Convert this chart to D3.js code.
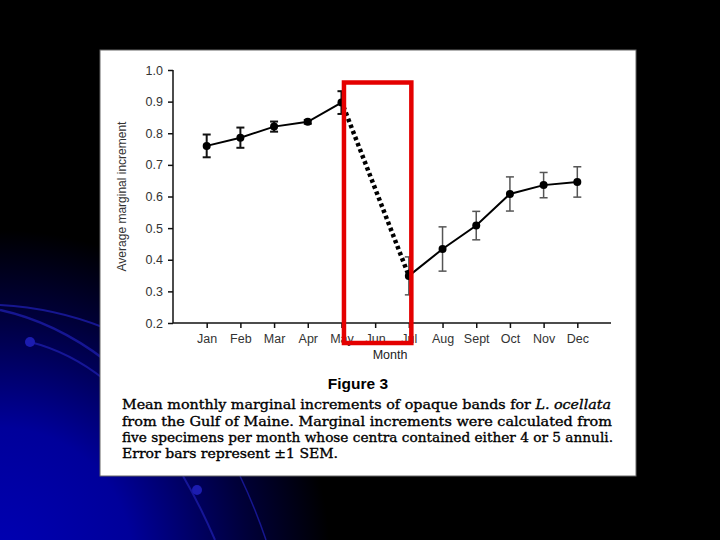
<!DOCTYPE html>
<html>
<head>
<meta charset="utf-8">
<script src="https://cdn.jsdelivr.net/npm/d3@7"></script>
<style>
  html, body { margin: 0; padding: 0; background: #000; }
  svg { display: block; }
</style>
</head>
<body>
<div id="chart"></div>
<script>
// =======================
// Data
// =======================
const months = ["Jan", "Feb", "Mar", "Apr", "May", "Jun", "Jul", "Aug", "Sept", "Oct", "Nov", "Dec"];
const means  = [0.760, 0.786, 0.821, 0.836, 0.897, null, 0.349, 0.434, 0.508, 0.608, 0.636, 0.646];
const sems   = [0.036, 0.032, 0.016, 0.006, 0.036, null, 0.060, 0.070, 0.045, 0.054, 0.040, 0.048];
const yTicks = [0.2, 0.3, 0.4, 0.5, 0.6, 0.7, 0.8, 0.9, 1.0];
const captionLines = [
    "from the Gulf of Maine. Marginal increments were calculated from",
    "five specimens per month whose centra contained either 4 or 5 annuli.",
    "Error bars represent \u00b11 SEM."
];

const width = 720, height = 540;

const svg = d3.select("#chart")
    .append("svg")
    .attr("width", width)
    .attr("height", height);

// =======================
// Slide background
// =======================
const defs = svg.append("defs");
const glow = defs.append("radialGradient")
    .attr("id", "glow")
    .attr("gradientUnits", "userSpaceOnUse")
    .attr("cx", 0).attr("cy", 560).attr("r", 330);
glow.append("stop").attr("offset", 0).attr("stop-color", "#0000b4");
glow.append("stop").attr("offset", 0.4).attr("stop-color", "#00009a");
glow.append("stop").attr("offset", 0.75).attr("stop-color", "#00003a");
glow.append("stop").attr("offset", 1).attr("stop-color", "#000000");

svg.append("rect").attr("width", width).attr("height", height).attr("fill", "#000");
svg.append("rect").attr("width", width).attr("height", height).attr("fill", "url(#glow)");

// swooshes
const swoosh = svg.append("g").attr("fill", "none").attr("stroke", "#1c1ca8").attr("stroke-opacity", 0.8);
swoosh.append("path").attr("d", "M0,305 Q55,308 105,328").attr("stroke-width", 2);
swoosh.append("path").attr("d", "M0,310 Q55,322 105,360").attr("stroke-width", 2.5);
swoosh.append("path").attr("d", "M30,342 Q70,352 105,380").attr("stroke-width", 2);
swoosh.append("path").attr("d", "M183,476 Q200,505 215,540").attr("stroke-width", 2);
swoosh.append("path").attr("d", "M240,476 Q254,505 266,540").attr("stroke-width", 1.5);
svg.append("circle").attr("cx", 30).attr("cy", 342).attr("r", 5).attr("fill", "#1c1cb0");
svg.append("circle").attr("cx", 197).attr("cy", 490).attr("r", 5).attr("fill", "#1c1cb0");

// =======================
// White figure panel
// =======================
svg.append("rect")
    .attr("x", 100).attr("y", 50)
    .attr("width", 536).attr("height", 426)
    .attr("fill", "#fff")
    .attr("stroke", "#666")
    .attr("stroke-width", 1);

// =======================
// Scales & axes
// =======================
const x = d3.scaleLinear().domain([0, 13]).range([173, 611]);
const y = d3.scaleLinear().domain([0.2, 1.0]).range([323, 70]);

const plot = svg.append("g");

const yAxis = plot.append("g")
    .attr("transform", `translate(${x(0)},0)`)
    .call(d3.axisLeft(y).tickValues(yTicks).tickFormat(d3.format(".1f")).tickSize(5).tickPadding(5));

const xAxis = plot.append("g")
    .attr("transform", `translate(0,${y(0.2)})`)
    .call(d3.axisBottom(x).tickValues(d3.range(1, 13)).tickFormat(i => months[i - 1]).tickSize(5).tickPadding(6));

[yAxis, xAxis].forEach(a => {
    a.select(".domain").attr("stroke", "#111").attr("stroke-width", 1.5);
    a.selectAll(".tick line").attr("stroke", "#111").attr("stroke-width", 1.5);
    a.selectAll("text")
        .attr("fill", "#333")
        .style("font-family", "Liberation Sans, Arial, sans-serif")
        .style("font-size", "12.5px");
});
// keep domain lines without end caps
yAxis.select(".domain").attr("d", `M0,${y(1.0)}V${y(0.2)}`);
xAxis.select(".domain").attr("d", `M${x(0)},0H${x(13)}`);

plot.append("text")
    .attr("transform", `translate(126,${(y(0.2) + y(1.0)) / 2}) rotate(-90)`)
    .attr("text-anchor", "middle")
    .attr("fill", "#333")
    .style("font-family", "Liberation Sans, Arial, sans-serif")
    .style("font-size", "12px")
    .text("Average marginal increment");

plot.append("text")
    .attr("x", 390).attr("y", 359)
    .attr("text-anchor", "middle")
    .attr("fill", "#222")
    .style("font-family", "Liberation Sans, Arial, sans-serif")
    .style("font-size", "12.5px")
    .text("Month");

// =======================
// Series
// =======================
const data = months.map((m, i) => ({ i: i + 1, month: m, mean: means[i], sem: sems[i] }));
const valid = data.filter(d => d.mean != null);

// error bars
const eb = plot.append("g").selectAll("g")
    .data(valid)
    .enter()
    .append("g")
    .attr("stroke", d => d.i <= 5 ? "#111" : "#555")
    .attr("stroke-width", d => d.i <= 5 ? 2 : 1.5);

eb.append("line")
    .attr("x1", d => x(d.i)).attr("x2", d => x(d.i))
    .attr("y1", d => y(d.mean + d.sem)).attr("y2", d => y(d.mean - d.sem));
eb.append("line")
    .attr("x1", d => x(d.i) - 4).attr("x2", d => x(d.i) + 4)
    .attr("y1", d => y(d.mean + d.sem)).attr("y2", d => y(d.mean + d.sem));
eb.append("line")
    .attr("x1", d => x(d.i) - 4).attr("x2", d => x(d.i) + 4)
    .attr("y1", d => y(d.mean - d.sem)).attr("y2", d => y(d.mean - d.sem));

// solid line (gap at Jun)
const line = d3.line()
    .defined(d => d.mean != null)
    .x(d => x(d.i))
    .y(d => y(d.mean));

plot.append("path")
    .datum(data)
    .attr("d", line)
    .attr("fill", "none")
    .attr("stroke", "#000")
    .attr("stroke-width", 2);

plot.selectAll(".dot")
    .data(valid)
    .enter()
    .append("circle")
    .attr("class", "dot")
    .attr("cx", d => x(d.i))
    .attr("cy", d => y(d.mean))
    .attr("r", 4)
    .attr("fill", "#000");

// =======================
// Annotation: dotted bridge May -> Jul and red box
// =======================
const may = data[4], jul = data[6];
plot.append("path")
    .attr("d", d3.line()([[x(may.i) + 2, y(may.mean) + 4], [x(jul.i), y(jul.mean)]]))
    .attr("fill", "none")
    .attr("stroke", "#000")
    .attr("stroke-width", 4.5)
    .attr("stroke-dasharray", "3.5 3");

plot.append("rect")
    .attr("x", x(5) + 2.5)
    .attr("y", 82.5)
    .attr("width", x(7) - x(5))
    .attr("height", 343 - 82.5)
    .attr("fill", "none")
    .attr("stroke", "#e40000")
    .attr("stroke-width", 4.5);

// =======================
// Caption
// =======================
svg.append("text")
    .attr("x", 358).attr("y", 389)
    .attr("text-anchor", "middle")
    .attr("fill", "#000")
    .style("font-family", "Liberation Sans, Arial, sans-serif")
    .style("font-weight", "bold")
    .style("font-size", "15.5px")
    .text("Figure 3");

const cap = svg.append("g")
    .attr("fill", "#000")
    .attr("stroke", "#000")
    .attr("stroke-width", 0.35)
    .style("font-family", "DejaVu Serif, serif")
    .style("font-size", "13.5px");

const first = cap.append("text")
    .attr("x", 122).attr("y", 409)
    .attr("textLength", 489)
    .attr("lengthAdjust", "spacingAndGlyphs");
first.append("tspan").text("Mean monthly marginal increments of opaque bands for ");
first.append("tspan").style("font-style", "italic").text("L. ocellata");

const lineLens = [490, 491, 216];
captionLines.forEach((t, k) => {
    cap.append("text")
        .attr("x", 122)
        .attr("y", 425.5 + k * 16.3)
        .attr("textLength", lineLens[k])
        .attr("lengthAdjust", "spacingAndGlyphs")
        .text(t);
});
</script>
</body>
</html>
